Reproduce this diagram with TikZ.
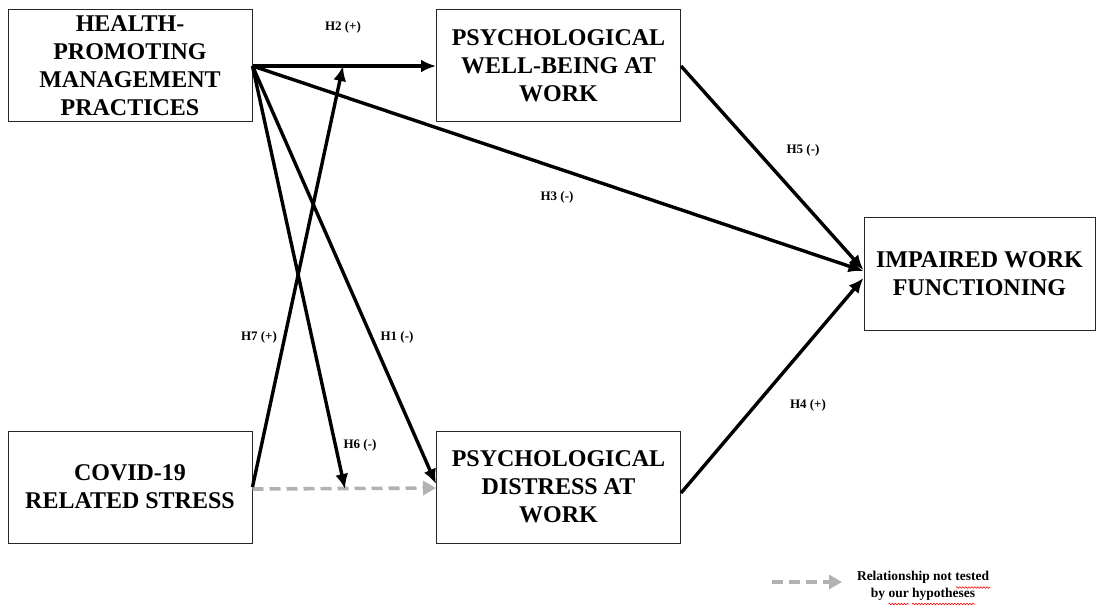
\documentclass[tikz,border=0pt]{standalone}
\usepackage{fontspec}
\setmainfont{Liberation Serif}
\usetikzlibrary{arrows.meta,decorations.pathmorphing}
\begin{document}
\begin{tikzpicture}[x=1pt,y=-1pt,
 box/.style={draw=black!85,line width=1pt,minimum width=244pt,minimum height=112pt,align=center,font=\fontsize{24}{28}\selectfont\bfseries,inner sep=0pt},
 arr/.style={line width=3.4pt,-{Latex[length=15pt,width=13pt]}},
 untested/.style={line width=3.6pt,draw=black!30,dash pattern=on 11pt off 6pt,-{Triangle[length=13pt,width=14pt]}},
 lab/.style={font=\fontsize{13}{15}\selectfont\bfseries,inner sep=0pt},
 squig/.style={draw=red,line width=0.6pt,decorate,decoration={snake,amplitude=0.8pt,segment length=3pt}}
]
\useasboundingbox (0,0) rectangle (1096,607);
\node[box] (hp) at (130,66) {HEALTH-\\PROMOTING\\MANAGEMENT\\PRACTICES};
\node[box] (pw) at (558.5,66) {PSYCHOLOGICAL\\WELL-BEING AT\\WORK};
\node[box,minimum width=231pt] (iw) at (979.5,274) {IMPAIRED WORK\\FUNCTIONING};
\node[box] (cv) at (130,487) {COVID-19\\RELATED STRESS};
\node[box] (pd) at (558.5,487) {PSYCHOLOGICAL\\DISTRESS AT\\WORK};

\coordinate (h7end) at (343,66);
\coordinate (h6end) at (345,489);

\draw[untested] ([yshift=-2pt]cv.east) -- ([yshift=-1pt]pd.west);
\draw[arr] (hp.east) -- (pw.west);
\draw[arr] (hp.east) -- ([yshift=3pt]iw.west);
\draw[arr] (hp.east) -- ([yshift=3pt]pd.west);
\draw[arr] (hp.east) -- (h6end);
\draw[arr] (cv.east) -- (h7end);
\draw[arr] (pw.east) -- ([yshift=4pt]iw.west);
\draw[arr] ([yshift=-6pt]pd.east) -- ([yshift=-4pt]iw.west);

\node[lab] (l2) at (343,27) {H2 (+)};
\node[lab] (l3) at (557,197) {H3 (-)};
\node[lab] (l5) at (803,150) {H5 (-)};
\node[lab] (l1) at (397,337) {H1 (-)};
\node[lab] (l7) at (259,337) {H7 (+)};
\node[lab] (l6) at (360,445) {H6 (-)};
\node[lab] (l4) at (808,405) {H4 (+)};

\coordinate (lgA) at (772,582);
\coordinate (lgB) at (842,582);
\draw[untested] (lgA) -- (lgB);
\node[align=center,font=\fontsize{13.5}{16.5}\selectfont\bfseries,inner sep=0pt] (lgt) at (923,586) {Relationship not tested\\by our hypotheses};
\draw[squig] (956,587.5) -- (990,587.5);
\draw[squig] (888.5,604) -- (908.5,604);
\draw[squig] (912,604) -- (975,604);
\end{tikzpicture}
\end{document}
